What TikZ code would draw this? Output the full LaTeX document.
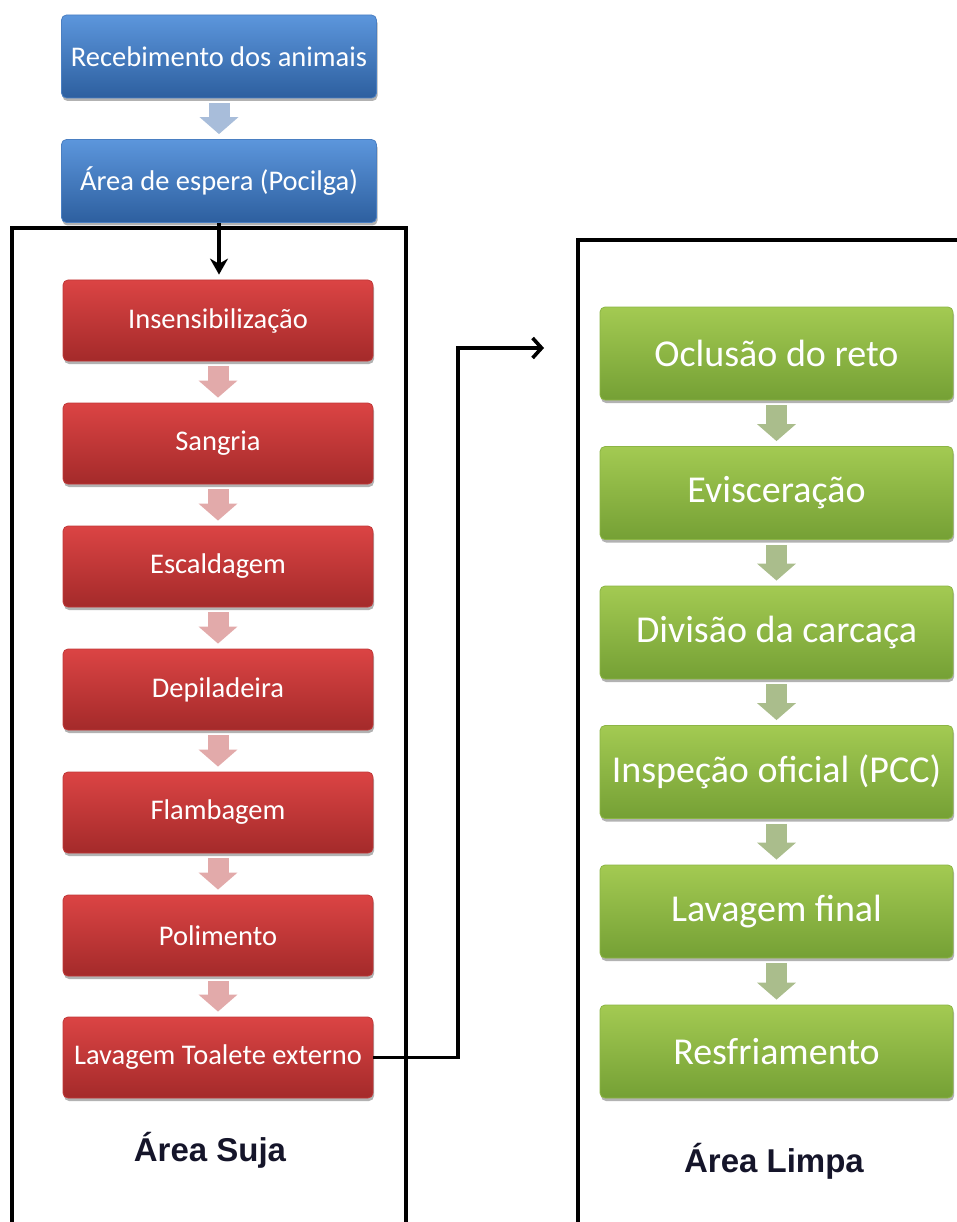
\documentclass[tikz,border=0pt]{standalone}
\usepackage{fontspec}
\setmainfont{Carlito}
\newfontfamily\labfont{Liberation Sans}
\usetikzlibrary{arrows.meta,shadows}
\definecolor{bluetop}{HTML}{5C96DC}
\definecolor{bluebot}{HTML}{2D5F9F}
\definecolor{blueedge}{HTML}{4A7FC2}
\definecolor{redtop}{HTML}{DB4444}
\definecolor{redbot}{HTML}{A42A2A}
\definecolor{rededge}{HTML}{C03838}
\definecolor{greentop}{HTML}{A3CA52}
\definecolor{greenbot}{HTML}{75A035}
\definecolor{greenedge}{HTML}{8CB545}
\definecolor{bluearr}{HTML}{A8BDDA}
\definecolor{redarr}{HTML}{E2AAAA}
\definecolor{greenarr}{HTML}{AABD8C}
\definecolor{labcol}{HTML}{15152A}
\tikzset{
  box/.style={rounded corners=5pt, text=white, align=center, inner sep=2pt,
    line width=0.8pt,
    drop shadow={shadow xshift=1pt, shadow yshift=-3pt, opacity=0.3, fill=black}},
  bluebox/.style={box, minimum width=315pt, minimum height=83pt,
    top color=bluetop, bottom color=bluebot, draw=blueedge,
    font=\fontsize{28.5}{33}\selectfont},
  redbox/.style={box, minimum width=310pt, minimum height=81pt,
    top color=redtop, bottom color=redbot, draw=rededge,
    font=\fontsize{28.5}{33}\selectfont},
  greenbox/.style={box, minimum width=353pt, minimum height=93pt,
    top color=greentop, bottom color=greenbot, draw=greenedge,
    font=\fontsize{38}{44}\selectfont},
  blockarr/.style={draw=#1, line width=21pt, shorten <=5pt, shorten >=5pt,
    -{Triangle[length=17pt 0,width=38pt 0,fill=#1]}},
  frame/.style={line width=3.6pt, draw=black},
  conn/.style={line width=3.6pt, draw=black},
  arealab/.style={font=\labfont\bfseries\fontsize{33}{38}\selectfont, text=labcol}
}
\begin{document}
\begin{tikzpicture}[x=1pt,y=-1pt]
\useasboundingbox (0,0) rectangle (957,1222);

% frames
\draw[frame] (12,1222) -- (12,228) -- (406,228) -- (406,1222);
\draw[frame] (578,1222) -- (578,240) -- (957,240);

% blue
\node[bluebox] (rec) at (219,56.5) {Recebimento dos animais};
\node[bluebox] (esp) at (219,181) {Área de espera (Pocilga)};

% red
\node[redbox] (ins) at (218,320.5) {Insensibilização};
\node[redbox] (san) at (218,443.5) {Sangria};
\node[redbox] (esc) at (218,566.5) {Escaldagem};
\node[redbox] (dep) at (218,689.5) {Depiladeira};
\node[redbox] (fla) at (218,812.5) {Flambagem};
\node[redbox] (pol) at (218,935.5) {Polimento};
\node[redbox] (lav) at (218,1057.5) {Lavagem Toalete externo};

% green
\node[greenbox] (ocl) at (776.5,353.5) {Oclusão do reto};
\node[greenbox] (evi) at (776.5,493) {Evisceração};
\node[greenbox] (div) at (776.5,632.5) {Divisão da carcaça};
\node[greenbox] (insp) at (776.5,772) {Inspeção oficial (PCC)};
\node[greenbox] (lavf) at (776.5,911.5) {Lavagem final};
\node[greenbox] (res) at (776.5,1051.5) {Resfriamento};

% labels
\node[arealab] (suja) at (210,1150) {Área Suja};
\node[arealab] (limpa) at (774,1161) {Área Limpa};

% block arrows
\draw[blockarr=bluearr] (rec) -- (esp);
\draw[blockarr=redarr] (ins) -- (san);
\draw[blockarr=redarr] (san) -- (esc);
\draw[blockarr=redarr] (esc) -- (dep);
\draw[blockarr=redarr] (dep) -- (fla);
\draw[blockarr=redarr] (fla) -- (pol);
\draw[blockarr=redarr] (pol) -- (lav);
\draw[blockarr=greenarr] (ocl) -- (evi);
\draw[blockarr=greenarr] (evi) -- (div);
\draw[blockarr=greenarr] (div) -- (insp);
\draw[blockarr=greenarr] (insp) -- (lavf);
\draw[blockarr=greenarr] (lavf) -- (res);

% connectors
\draw[conn, shorten >=5pt, -{Stealth[length=16pt 0,width=18pt 0]}] (esp.south) -- (esp.south |- ins.north);
\coordinate (limpaIn) at (544,348);
\draw[conn, -{Straight Barb[length=9pt 0,width=20pt 0]}] (lav.east) -- (458,1057.5) |- (limpaIn);
\end{tikzpicture}
\end{document}
